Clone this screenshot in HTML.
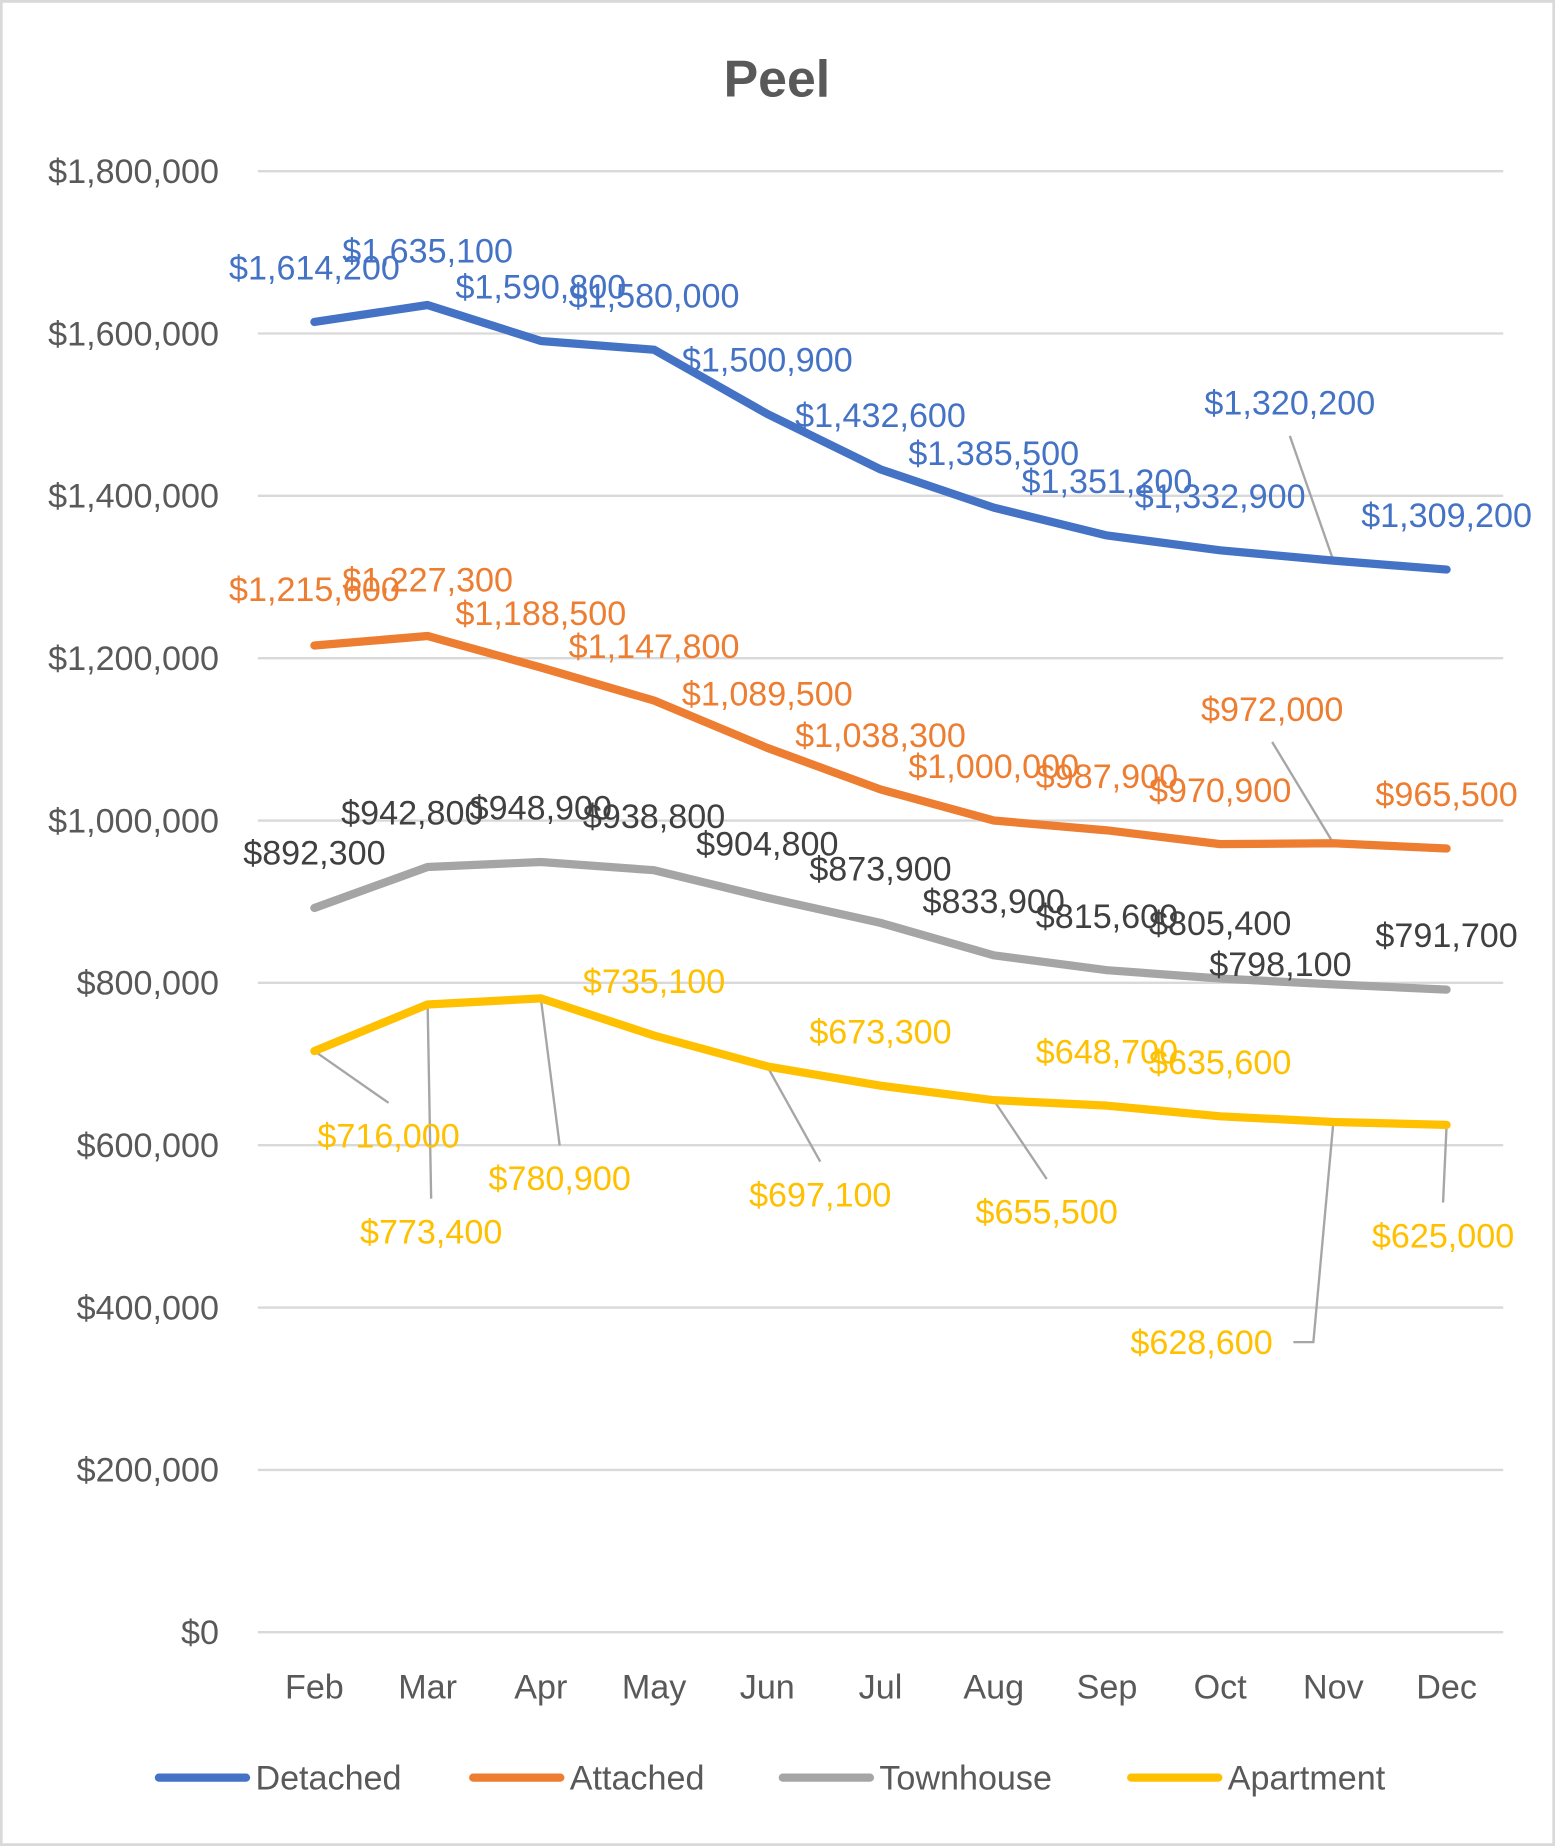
<!DOCTYPE html>
<html><head><meta charset="utf-8"><style>
html,body{margin:0;padding:0;background:#fff}
svg{display:block}
text{font-family:"Liberation Sans",sans-serif}
</style></head><body>
<svg id="chart" width="1555" height="1846" viewBox="0 0 1321 1568" xmlns="http://www.w3.org/2000/svg">
<rect x="1" y="1" width="1319" height="1566" fill="#fff" stroke="#d9d9d9" stroke-width="2.5"/>
<text x="660" y="82" text-anchor="middle" font-size="44" font-weight="bold" fill="#595959">Peel</text>
<g id="grid"></g><g id="ticks"></g><g id="xlabels"></g><g id="leaders"></g><g id="series"></g><g id="labels"></g><g id="legend"></g>
</svg>
<script>
const months=["Feb","Mar","Apr","May","Jun","Jul","Aug","Sep","Oct","Nov","Dec"];
const yTicks=[0,200000,400000,600000,800000,1000000,1200000,1400000,1600000,1800000];
const detached=[1614200,1635100,1590800,1580000,1500900,1432600,1385500,1351200,1332900,1320200,1309200];
const attached=[1215600,1227300,1188500,1147800,1089500,1038300,1000000,987900,970900,972000,965500];
const townhouse=[892300,942800,948900,938800,904800,873900,833900,815600,805400,798100,791700];
const apartment=[716000,773400,780900,735100,697100,673300,655500,648700,635600,628600,625000];
const seriesNames=["Detached","Attached","Townhouse","Apartment"];
const colors=["#4472c4","#ed7d31","#a5a5a5","#ffc000"];
const labelColors=["#4472c4","#ed7d31","#404040","#ffc000"];
const offs=[
 [[0,-46],[0,-46],[0,-46],[0,-46],[0,-46],[0,-46],[0,-46],[0,-46],[0,-46],[-37,-134],[0,-46]],
 [[0,-48],[0,-48],[0,-46],[0,-46],[0,-46],[0,-46],[0,-46],[0,-46],[0,-46],[-52,-114],[0,-46]],
 [[0,-47],[-13,-46],[0,-46],[0,-46],[0,-46],[0,-46],[0,-46],[0,-46],[0,-47],[-45,-17],[0,-46]],
 [[63,72],[3,193],[16,153],[0,-46],[45,109],[0,-46],[45,95],[0,-46],[0,-46],[-112,187],[-3,94]]
];
const leaderFlags=[[9],[9],[],[0,1,2,4,6,9,10]];
const X0=219,X1=1277,Y0=1386.5,Y1=145.3;
const step=(X1-X0)/months.length;
const xs=i=>X0+step*(i+0.5);
const ys=v=>Y0-(v/1800000)*(Y0-Y1);
const fmt=v=>"$"+v.toLocaleString("en-US");
const NS="http://www.w3.org/2000/svg";
function mk(tag,attrs,parent,txt){const e=document.createElementNS(NS,tag);for(const k in attrs)e.setAttribute(k,attrs[k]);if(txt!==undefined)e.textContent=txt;document.getElementById(parent).appendChild(e);return e;}
yTicks.forEach(t=>{
 const l=mk("line",{x1:X0,x2:X1,y1:ys(t),y2:ys(t),stroke:"#d9d9d9","stroke-width":2},"grid");
 
 
 const tx=mk("text",{x:186,y:ys(t)+10,"text-anchor":"end","font-size":29,fill:"#595959"},"ticks",fmt(t));
 
 
});
months.forEach((m,i)=>{
 const t=mk("text",{x:xs(i),y:1443,"text-anchor":"middle","font-size":29,fill:"#595959"},"xlabels",m);
 
 
});
[detached,attached,townhouse,apartment].forEach((data,s)=>{
 const p=mk("polyline",{points:data.map((v,i)=>xs(i)+","+ys(v)).join(" "),fill:"none",stroke:colors[s],"stroke-width":7,"stroke-linejoin":"round","stroke-linecap":"round"},"series");
 
 
 data.forEach((v,i)=>{
  const [dx,dy]=offs[s][i];
  const lx=xs(i)+dx, ly=ys(v)+dy;
  if(leaderFlags[s].includes(i)){
   let pts;
   if(s===3&&i===9){pts=[[lx+78,ly],[lx+95,ly],[xs(i),ys(v)]];}
   else{const ey=dy<0?ly+28:ly-28;pts=[[lx,ey],[xs(i),ys(v)]];}
   const ll=mk("polyline",{points:pts.map(q=>q.join(",")).join(" "),fill:"none",stroke:"#a6a6a6","stroke-width":2},"leaders");
   
   
  }
  const t=mk("text",{x:lx,y:ly+10,"text-anchor":"middle","font-size":29,fill:labelColors[s]},"labels",fmt(v));
  
  
 });
});
const legX=[135,402,665,961];
seriesNames.forEach((n,s)=>{
 const l=mk("line",{x1:legX[s],x2:legX[s]+74,y1:1510,y2:1510,stroke:colors[s],"stroke-width":7,"stroke-linecap":"round"},"legend");
 
 
 const t=mk("text",{x:legX[s]+82,y:1520,"font-size":29,fill:"#595959"},"legend",n);
 
 
});
</script>
</body></html>
